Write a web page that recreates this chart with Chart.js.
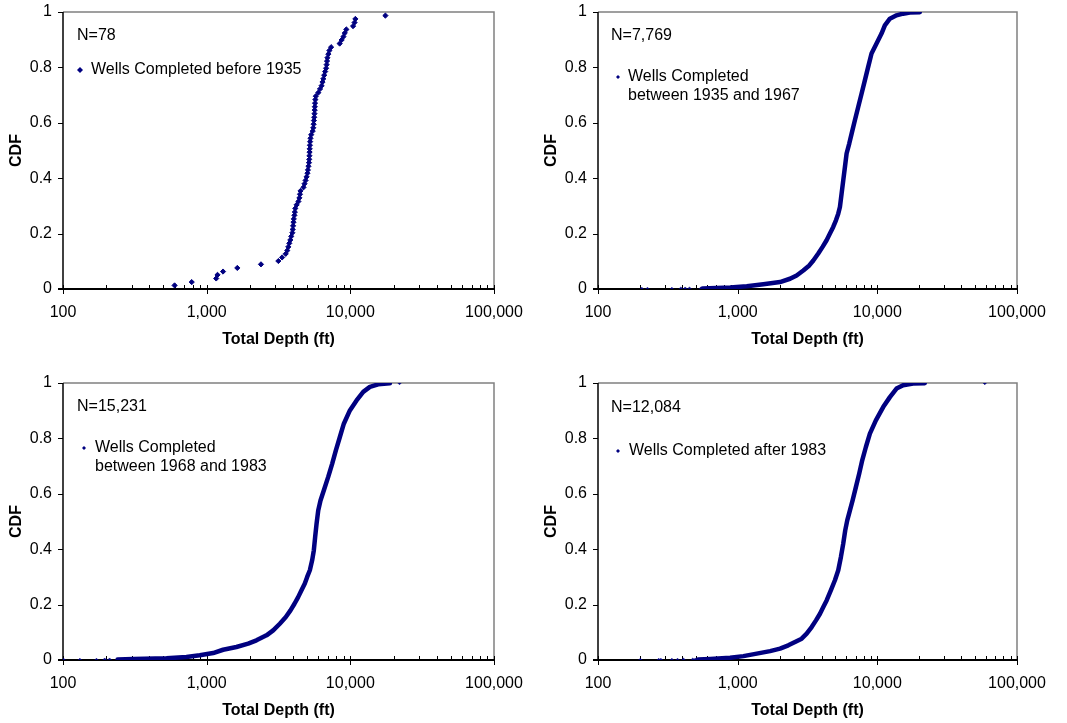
<!DOCTYPE html>
<html>
<head>
<meta charset="utf-8">
<script src="https://cdn.jsdelivr.net/npm/chart.js@4.4.1/dist/chart.umd.min.js"></script>
<style>
  body { margin: 0; background: #fff; width: 1067px; height: 723px; position: relative; overflow: hidden; }
  canvas { position: absolute; }
</style>
</head>
<body>
<canvas id="c1" width="533" height="361" style="left:0px;top:0px"></canvas>
<canvas id="c2" width="533" height="361" style="left:535px;top:0px"></canvas>
<canvas id="c3" width="533" height="361" style="left:0px;top:371px"></canvas>
<canvas id="c4" width="533" height="361" style="left:535px;top:371px"></canvas>
<script>
// wells completed before 1935 (78 wells)
const before1935Depth = [598, 787, 1165, 1190, 1300, 1634, 2388, 3155, 3350, 3550, 3640, 3700, 3760, 3822, 3880, 3950,
  3970, 3995, 4020, 4040, 4080, 4110, 4140, 4230, 4350, 4420, 4460, 4500, 4720, 4800, 4880, 4960, 5030, 5070, 5110,
  5155, 5175, 5190, 5205, 5215, 5230, 5250, 5280, 5340, 5470, 5520, 5555, 5580, 5605, 5630, 5649, 5660, 5680, 5710,
  5750, 5990, 6150, 6310, 6400, 6490, 6580, 6680, 6780, 6840, 6880, 6930, 7030, 7150, 7350, 8430, 8700, 8950, 9150,
  9380, 10450, 10700, 10840, 17540];
const before1935Cdf = [0.013, 0.025, 0.038, 0.051, 0.063, 0.076, 0.089, 0.101, 0.114, 0.127, 0.139, 0.152, 0.165,
  0.177, 0.190, 0.203, 0.215, 0.228, 0.241, 0.253, 0.266, 0.278, 0.291, 0.304, 0.316, 0.329, 0.342, 0.354, 0.367,
  0.380, 0.392, 0.405, 0.418, 0.430, 0.443, 0.456, 0.468, 0.481, 0.494, 0.506, 0.519, 0.532, 0.544, 0.557, 0.570,
  0.582, 0.595, 0.608, 0.620, 0.633, 0.646, 0.658, 0.671, 0.684, 0.696, 0.709, 0.722, 0.734, 0.747, 0.759, 0.772,
  0.785, 0.797, 0.810, 0.823, 0.835, 0.848, 0.861, 0.873, 0.886, 0.899, 0.911, 0.924, 0.937, 0.949, 0.962, 0.975, 0.987];

// 1935-1967: sparse shallow wells, then the dense body of the curve
const w1935TailDepth = [206, 226, 338, 392, 421, 452, 545];
const w1935TailCdf = [0, 0, 0, 0.001, 0.001, 0.001, 0.001];
const w1935Depth = [560, 883, 1162, 1527, 2010, 2370, 2644, 2950, 3257, 3481, 3777, 4055, 4333, 4578, 4833, 5055, 5250,
  5397, 5546, 5700, 5860, 6025, 6294, 6546, 6907, 7296, 7708, 8142, 8600, 9088, 9870, 10715, 11320, 12300, 13720,
  15300, 17100, 20150];
const w1935Cdf = [0.002, 0.005, 0.010, 0.017, 0.025, 0.037, 0.049, 0.067, 0.085, 0.103, 0.128, 0.152, 0.176, 0.200,
  0.224, 0.248, 0.272, 0.296, 0.344, 0.392, 0.440, 0.489, 0.525, 0.561, 0.609, 0.657, 0.705, 0.753, 0.802, 0.850,
  0.886, 0.922, 0.952, 0.976, 0.988, 0.994, 0.998, 0.999];

// 1968-1983
const w1968TailDepth = [101, 131, 171, 195, 211, 22000];
const w1968TailCdf = [0, 0, 0, 0.001, 0.001, 1];
const w1968Depth = [240, 308, 525, 723, 895, 1109, 1301, 1611, 1944, 2222, 2609, 2904, 3229, 3556, 3832, 4086, 4333,
  4571, 4822, 5008, 5226, 5422, 5570, 5690, 5820, 5977, 6199, 6543, 7015, 7480, 7930, 8455, 9011, 9926, 11050, 12300,
  13690, 15630, 18840];
const w1968Cdf = [0.002, 0.004, 0.006, 0.011, 0.017, 0.025, 0.037, 0.047, 0.059, 0.071, 0.089, 0.107, 0.131, 0.155,
  0.179, 0.203, 0.227, 0.252, 0.276, 0.300, 0.324, 0.360, 0.396, 0.444, 0.492, 0.540, 0.576, 0.613, 0.661, 0.709,
  0.757, 0.805, 0.853, 0.901, 0.937, 0.968, 0.986, 0.995, 0.999];

// after 1983
const w1984TailDepth = [201, 272, 282, 338, 371, 409, 477, 497, 58800];
const w1984TailCdf = [0, 0, 0, 0, 0, 0.001, 0.001, 0.001, 1];
const w1984Depth = [520, 635, 883, 1099, 1370, 1706, 2011, 2305, 2574, 2872, 3118, 3387, 3637, 3885, 4104, 4335, 4654,
  4970, 5250, 5486, 5700, 5890, 6090, 6365, 6652, 7028, 7420, 7795, 8280, 8845, 9760, 11010, 12300, 13720, 15300,
  18030, 21860];
const w1984Cdf = [0.002, 0.004, 0.008, 0.014, 0.023, 0.032, 0.041, 0.053, 0.065, 0.077, 0.095, 0.119, 0.143, 0.167,
  0.191, 0.215, 0.252, 0.288, 0.324, 0.372, 0.420, 0.468, 0.504, 0.540, 0.576, 0.625, 0.673, 0.721, 0.769, 0.817,
  0.865, 0.913, 0.949, 0.980, 0.992, 0.998, 0.999];

const xMajor = [100, 1000, 10000, 100000];
const NAVY = '#000080';
const FONT = "'Liberation Sans', Arial, sans-serif";

const toPts = (xs, ys) => xs.map((x, i) => ({ x, y: ys[i] }));

// borders, axis lines and Excel-style tick marks
const framePlugin = {
  id: 'frame',
  beforeDatasetsDraw(chart) {
    const { ctx, chartArea: a, scales: { x, y } } = chart;
    const line = (x1, y1, x2, y2) => { ctx.beginPath(); ctx.moveTo(x1, y1); ctx.lineTo(x2, y2); ctx.stroke(); };
    ctx.save();
    ctx.strokeStyle = '#808080';
    ctx.lineWidth = 1.5;
    ctx.beginPath();
    ctx.moveTo(a.left, a.top); ctx.lineTo(a.right, a.top); ctx.lineTo(a.right, a.bottom);
    ctx.stroke();

    ctx.strokeStyle = '#000';
    ctx.lineWidth = 1;
    y.ticks.forEach(t => {
      const py = Math.round(y.getPixelForValue(t.value)) + 0.5;
      line(a.left - 5, py, a.left, py);
    });
    xMajor.slice(0, 3).forEach(d => {
      for (let m = 2; m <= 9; m++) {
        const px = Math.round(x.getPixelForValue(d * m)) + 0.5;
        line(px, a.bottom - 4, px, a.bottom);
      }
    });
    xMajor.forEach(d => {
      const px = Math.round(x.getPixelForValue(d)) + 0.5;
      line(px, a.bottom - 4, px, a.bottom + 5);
    });
    ctx.lineWidth = 1.5;
    line(a.left, a.top, a.left, a.bottom);
    ctx.lineWidth = 2;
    line(a.left - 5, a.bottom, a.right, a.bottom);
    ctx.restore();
  },
  afterDraw(chart, args, opts) {
    const { ctx, chartArea: a } = chart;
    ctx.save();
    ctx.fillStyle = '#000';
    ctx.font = '16px ' + FONT;
    ctx.textBaseline = 'middle';
    ctx.fillText(opts.n, a.left + opts.nx, a.top + opts.ny);
    opts.legend.forEach((txt, i) => ctx.fillText(txt, a.left + opts.tx, a.top + opts.ly + i * 19));
    // legend marker
    const mx = a.left + opts.mx, my = a.top + opts.ly, r = opts.mr;
    ctx.fillStyle = NAVY;
    ctx.beginPath();
    ctx.moveTo(mx - r, my); ctx.lineTo(mx, my - r); ctx.lineTo(mx + r, my); ctx.lineTo(mx, my + r);
    ctx.closePath();
    ctx.fill();
    ctx.restore();
  }
};

function makePanel(id, datasets, rightPad, note) {
  new Chart(document.getElementById(id), {
    type: 'scatter',
    data: { datasets },
    options: {
      responsive: false,
      animation: false,
      devicePixelRatio: 1,
      layout: { padding: { top: 12, right: rightPad, left: 0, bottom: 0 } },
      plugins: { legend: { display: false }, tooltip: { enabled: false }, frame: note },
      scales: {
        x: {
          type: 'logarithmic',
          min: 100,
          max: 100000,
          afterBuildTicks: (s) => { s.ticks = xMajor.map(v => ({ value: v })); },
          afterFit: (s) => { s.height = 72; s.paddingLeft = 0; s.paddingRight = 0; },
          grid: { display: false, drawTicks: false },
          border: { display: false },
          ticks: {
            autoSkip: false,
            maxRotation: 0,
            padding: 14,
            color: '#000',
            font: { family: FONT, size: 16 },
            callback: (v) => Number(v).toLocaleString('en-US')
          },
          title: {
            display: true,
            text: 'Total Depth (ft)',
            color: '#000',
            font: { family: FONT, size: 16, weight: 'bold' },
            padding: { top: 0, bottom: 12 }
          }
        },
        y: {
          min: 0,
          max: 1,
          afterFit: (s) => { s.width = 63; s.paddingTop = 0; s.paddingBottom = 0; },
          grid: { display: false, drawTicks: false },
          border: { display: false },
          ticks: {
            stepSize: 0.2,
            padding: 11,
            color: '#000',
            font: { family: FONT, size: 16 },
            callback: (v) => String(+Number(v).toFixed(1))
          },
          title: {
            display: true,
            text: 'CDF',
            color: '#000',
            font: { family: FONT, size: 16, weight: 'bold' },
            padding: { top: 7, bottom: 0 }
          }
        }
      }
    },
    plugins: [framePlugin]
  });
}

const bodySet = (xs, ys) => ({
  data: toPts(xs, ys), showLine: true, borderColor: NAVY, borderWidth: 4.5,
  pointRadius: 0, borderJoinStyle: 'round', borderCapStyle: 'round'
});
const tailSet = (xs, ys) => ({
  data: toPts(xs, ys), showLine: false, pointStyle: 'rectRot', pointRadius: 1.8,
  backgroundColor: NAVY, borderColor: NAVY, borderWidth: 0.5
});

makePanel('c1', [{
  data: toPts(before1935Depth, before1935Cdf), showLine: false, pointStyle: 'rectRot', pointRadius: 2.6,
  backgroundColor: NAVY, borderColor: NAVY, borderWidth: 1
}], 39, { n: 'N=78', nx: 14, ny: 24, legend: ['Wells Completed before 1935'], mx: 17, tx: 28, ly: 58, mr: 3 });

makePanel('c2', [tailSet(w1935TailDepth, w1935TailCdf), bodySet(w1935Depth, w1935Cdf)], 51,
  { n: 'N=7,769', nx: 13, ny: 24, legend: ['Wells Completed', 'between 1935 and 1967'], mx: 20, tx: 30, ly: 65, mr: 2 });

makePanel('c3', [tailSet(w1968TailDepth, w1968TailCdf), bodySet(w1968Depth, w1968Cdf)], 39,
  { n: 'N=15,231', nx: 14, ny: 24, legend: ['Wells Completed', 'between 1968 and 1983'], mx: 21, tx: 32, ly: 65, mr: 2 });

makePanel('c4', [tailSet(w1984TailDepth, w1984TailCdf), bodySet(w1984Depth, w1984Cdf)], 51,
  { n: 'N=12,084', nx: 13, ny: 25, legend: ['Wells Completed after 1983'], mx: 20, tx: 31, ly: 68, mr: 2 });
</script>
</body>
</html>
